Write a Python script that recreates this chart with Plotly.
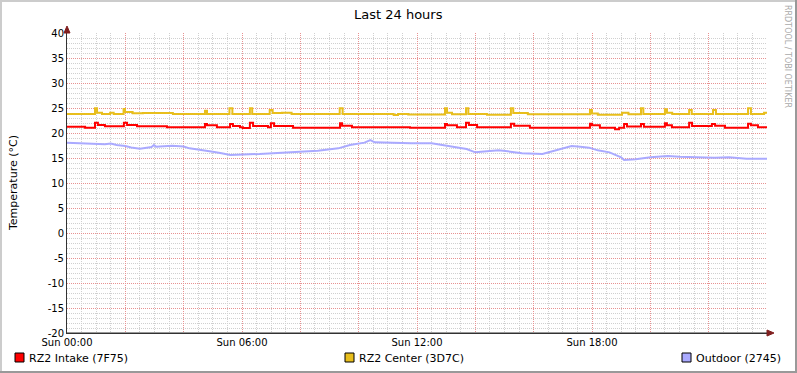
import plotly.graph_objects as go

# ---------------- data (hours since Sun 00:00, temperature in °C) ----------------
intake_t = [0.0, 0.62, 0.96, 1.06, 1.30, 1.95, 2.06, 2.40, 3.43, 4.73, 4.80, 5.14, 5.59, 5.69,
            5.93, 6.03, 6.27, 6.38, 6.89, 6.99, 7.10, 7.75, 9.36, 9.43, 9.77, 11.76, 12.96,
            13.03, 13.37, 13.68, 13.78, 14.06, 15.22, 15.33, 15.87, 17.93, 18.0, 18.27, 18.79,
            18.93, 19.10, 19.20, 19.68, 19.78, 20.50, 20.57, 20.74, 21.33, 21.43, 22.11, 22.22,
            22.56, 23.35, 23.45, 23.69, 24.0]
intake_v = [21.27, 21.07, 22.07, 21.6, 21.33, 22.07, 21.6, 21.33, 21.13, 21.8, 21.53, 21.13, 21.8, 21.4,
            21.13, 21.0, 22.07, 21.4, 21.13, 21.93, 21.4, 21.07, 21.93, 21.47, 21.13, 21.07, 21.8,
            21.53, 21.13, 22.07, 21.6, 21.13, 21.87, 21.47, 21.07, 21.87, 21.53, 21.07, 20.73,
            21.07, 21.8, 21.3, 21.8, 21.27, 21.93, 21.53, 21.13, 22.07, 21.4, 21.8, 21.47,
            21.07, 21.87, 21.53, 21.13, 21.13]

center_t = [0.0, 0.96, 1.03, 1.20, 1.48, 1.60, 1.94, 1.99, 2.25, 2.60, 3.63, 4.73, 4.80, 5.57, 5.67,
            6.27, 6.35, 6.95, 7.05, 7.37, 7.70, 9.35, 9.45, 11.2, 11.35, 11.7, 12.96, 13.03, 13.2,
            13.68, 13.76, 14.4, 15.22, 15.30, 15.8, 17.93, 18.0, 18.2, 19.03, 19.25, 19.68, 19.76,
            20.50, 20.57, 20.75, 21.33, 21.42, 22.15, 22.25, 23.35, 23.45, 23.9, 24.0]
center_v = [23.8, 24.93, 24.07, 23.8, 24.07, 23.8, 24.8, 24.2, 23.95, 24.0, 23.8, 24.47, 23.8, 24.93, 23.8,
            24.93, 23.8, 24.6, 24.0, 24.07, 23.8, 24.93, 23.8, 23.6, 23.8, 23.7, 24.93, 24.07, 23.75,
            24.93, 23.8, 23.67, 24.93, 24.0, 23.75, 24.6, 23.9, 23.67, 24.07, 23.75, 24.93, 23.8,
            24.73, 24.07, 23.8, 24.6, 23.8, 24.6, 23.8, 24.93, 23.8, 24.07, 24.07]

outdoor_t = [0.0, 1.0, 1.3, 1.5, 1.7, 2.0, 2.2, 2.5, 2.9, 2.98, 3.05, 3.6, 4.0, 4.2, 4.7, 5.0, 5.3,
             5.6, 6.6, 7.0, 7.6, 7.8, 8.6, 9.3, 9.5, 9.7, 10.2, 10.4, 10.55, 10.8, 11.8, 12.5, 13.0,
             13.4, 13.7, 14.0, 14.4, 14.8, 15.2, 15.6, 16.3, 16.6, 17.0, 17.3, 17.6, 17.9, 18.2,
             18.6, 19.0, 19.1, 19.5, 20.0, 20.6, 21.0, 22.2, 22.7, 23.3, 24.0]
outdoor_v = [18.06, 17.9, 17.73, 17.9, 17.6, 17.4, 17.1, 16.87, 17.2, 17.6, 17.27, 17.47, 17.3, 16.93, 16.6,
             16.27, 15.93, 15.6, 15.8, 15.93, 16.1, 16.27, 16.47, 16.93, 17.2, 17.6, 18.07, 18.6, 18.13,
             18.07, 17.93, 17.93, 17.47, 17.0, 16.8, 16.13, 16.27, 16.53, 16.27, 15.93, 15.8, 16.27,
             16.93, 17.4, 17.27, 17.07, 16.53, 16.13, 15.13, 14.6, 14.73, 15.13, 15.4, 15.27, 15.07,
             15.13, 14.87, 14.87]

y_ticks = [-20, -15, -10, -5, 0, 5, 10, 15, 20, 25, 30, 35, 40]
x_major = [0, 2, 4, 6, 8, 10, 12, 14, 16, 18, 20, 22, 24]
x_labels = ["Sun 00:00", "", "", "Sun 06:00", "", "", "Sun 12:00", "", "", "Sun 18:00", "", "", ""]

series_names = ["RZ2 Intake (7F75)", "RZ2 Center (3D7C)", "Outdoor (2745)"]
series_colors = ["#FF0000", "#E8BE1C", "#AAAAFF"]

# minor grid positions (every 30 min / every 1 °C, skipping the major lines)
x_minor = [k * 0.5 for k in range(49) if k % 4 != 0]
y_minor = [v for v in range(-20, 41) if v % 5 != 0]

# ---------------- layout geometry (pixels) ----------------
W, H = 797, 373
L, R, T, B = 67, 767, 33, 333


def px(x):
    return (x - L) / (R - L)


def py(y):
    return (B - y) / (B - T)


FONT = "DejaVu Sans"

fig = go.Figure()
fig.add_trace(go.Scatter(x=outdoor_t, y=outdoor_v, mode="lines", line=dict(color=series_colors[2], width=2),
                         name=series_names[2]))
fig.add_trace(go.Scatter(x=intake_t, y=intake_v, mode="lines", line=dict(color=series_colors[0], width=2, shape="hv"),
                         name=series_names[0]))
fig.add_trace(go.Scatter(x=center_t, y=center_v, mode="lines", line=dict(color=series_colors[1], width=2, shape="hv"),
                         name=series_names[1]))

grid_major = "#E89292"
grid_minor = "#D0D0D0"
DOTS = "1px,1px"

fig.update_layout(
    width=W, height=H,
    margin=dict(l=L, r=W - R, t=T, b=H - B, pad=0),
    paper_bgcolor="white", plot_bgcolor="white",
    showlegend=False,
    font=dict(family=FONT, size=10, color="#000000"),
    xaxis=dict(range=[0, 24], tickmode="array", tickvals=x_major, ticktext=x_labels,
               showgrid=True, gridcolor=grid_major, griddash=DOTS, gridwidth=1,
               minor=dict(tickmode="array", tickvals=x_minor, showgrid=True, gridcolor=grid_minor,
                          griddash=DOTS, gridwidth=1),
               showline=True, linecolor="#333333", linewidth=1, zeroline=False,
               ticks="", tickfont=dict(size=10, family=FONT), fixedrange=True),
    yaxis=dict(range=[-20, 40], tickmode="array", tickvals=y_ticks, ticktext=[str(v) for v in y_ticks],
               showgrid=True, gridcolor=grid_major, griddash=DOTS, gridwidth=1,
               minor=dict(tickmode="array", tickvals=y_minor, showgrid=True, gridcolor=grid_minor,
                          griddash=DOTS, gridwidth=1),
               showline=True, linecolor="#333333", linewidth=1, zeroline=False,
               ticks="", tickfont=dict(size=10, family=FONT), fixedrange=True),
)

shapes = []
# axis arrows
shapes.append(dict(type="path", xref="paper", yref="paper",
                   path=f"M {px(L-3)} {py(T)} L {px(L+3)} {py(T)} L {px(L)} {py(T-7)} Z",
                   fillcolor="#802020", line=dict(color="#802020", width=1)))
shapes.append(dict(type="path", xref="paper", yref="paper",
                   path=f"M {px(R)} {py(B-3)} L {px(R)} {py(B+3)} L {px(R+7)} {py(B)} Z",
                   fillcolor="#802020", line=dict(color="#802020", width=1)))
shapes.append(dict(type="line", xref="paper", yref="paper", x0=px(L), x1=px(R), y0=py(B), y1=py(B),
                   line=dict(color="#333333", width=1)))
# outer frame
shapes.append(dict(type="line", xref="paper", yref="paper", x0=px(0), x1=px(W), y0=py(1), y1=py(1),
                   line=dict(color="#CCCCCC", width=2)))
shapes.append(dict(type="line", xref="paper", yref="paper", x0=px(1), x1=px(1), y0=py(0), y1=py(H),
                   line=dict(color="#CCCCCC", width=2)))
shapes.append(dict(type="line", xref="paper", yref="paper", x0=px(0), x1=px(W), y0=py(H - 1), y1=py(H - 1),
                   line=dict(color="#999999", width=2)))
shapes.append(dict(type="line", xref="paper", yref="paper", x0=px(W - 1), x1=px(W - 1), y0=py(0), y1=py(H),
                   line=dict(color="#999999", width=2)))

annotations = []
# legend
legend_x = [15, 345, 682]
for name, color, lx in zip(series_names, series_colors, legend_x):
    shapes.append(dict(type="rect", xref="paper", yref="paper", x0=px(lx), x1=px(lx + 9),
                       y0=py(362), y1=py(353), fillcolor=color, line=dict(color="#000000", width=1)))
    annotations.append(dict(text=name, xref="paper", yref="paper", x=px(lx + 12), y=py(358),
                            xanchor="left", yanchor="middle", showarrow=False,
                            font=dict(family=FONT, size=11, color="#000000")))

annotations.append(dict(text="Last 24 hours", xref="paper", yref="paper", x=px(398), y=py(14),
                        xanchor="center", yanchor="middle", showarrow=False,
                        font=dict(family=FONT, size=13, color="#000000")))
annotations.append(dict(text="Temperature (°C)", xref="paper", yref="paper", x=px(13), y=py(183),
                        xanchor="center", yanchor="middle", showarrow=False, textangle=-90,
                        font=dict(family=FONT, size=11, color="#000000")))
annotations.append(dict(text="RRDTOOL / TOBI OETIKER", xref="paper", yref="paper", x=px(788), y=py(56),
                        xanchor="center", yanchor="middle", showarrow=False, textangle=90,
                        font=dict(family=FONT, size=8, color="#AAAAAA")))

fig.update_layout(shapes=shapes, annotations=annotations)

fig.write_html("out.html", config={"displayModeBar": False, "staticPlot": True},
               post_script="document.body.style.margin='0';document.body.style.overflow='hidden';")
